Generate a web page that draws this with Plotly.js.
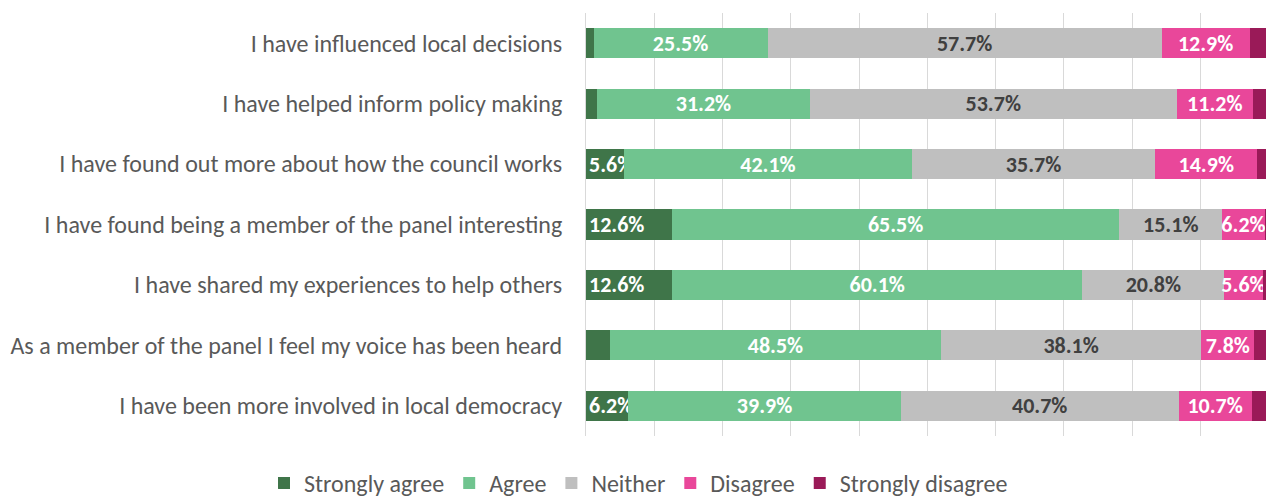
<!DOCTYPE html>
<html>
<head>
<meta charset="utf-8">
<script src="https://cdn.plot.ly/plotly-3.0.1.min.js"></script>
<style>
html, body { margin: 0; padding: 0; background: #ffffff; }
#chart { width: 1266px; height: 500px; }
</style>
</head>
<body>
<div id="chart"></div>
<script>
const categories = [
  "I have influenced local decisions",
  "I have helped inform policy making",
  "I have found out more about how the council works",
  "I have found being a member of the panel interesting",
  "I have shared my experiences to help others",
  "As a member of the panel I feel my voice has been heard",
  "I have been more involved in local democracy"
];
const stronglyAgree    = [1.1, 1.6, 5.6, 12.6, 12.6, 3.5, 6.2];
const agree            = [25.5, 31.2, 42.1, 65.5, 60.1, 48.5, 39.9];
const neither          = [57.7, 53.7, 35.7, 15.1, 20.8, 38.1, 40.7];
const disagree         = [12.9, 11.2, 14.9, 6.2, 5.6, 7.8, 10.7];
const stronglyDisagree = [2.8, 2.3, 1.7, 0.6, 0.9, 2.1, 2.5];

const seriesNames  = ["Strongly agree", "Agree", "Neither", "Disagree", "Strongly disagree"];
const seriesValues = [stronglyAgree, agree, neither, disagree, stronglyDisagree];
const seriesColors = ["#3f7549", "#70c48f", "#bfbfbf", "#e9479a", "#9a1a58"];
const labelColors  = ["#ffffff", "#ffffff", "#404040", "#ffffff", "#ffffff"];
const showLabels   = [true, true, true, true, false];
const labelAnchor  = ["start", "middle", "middle", "middle", "middle"];

const FONT = "Calibri, Carlito, Lato, 'Open Sans', sans-serif";

const traces = seriesNames.map((name, i) => ({
  type: "bar",
  orientation: "h",
  name: name,
  y: categories,
  x: seriesValues[i],
  marker: { color: seriesColors[i], line: { width: 0 } },
  text: seriesValues[i].map(v => (showLabels[i] && v >= 5) ? v.toFixed(1) + "%" : ""),
  textposition: "inside",
  insidetextanchor: labelAnchor[i],
  constraintext: "none",
  textfont: { family: FONT, size: 22, color: labelColors[i], weight: 700 },
  hoverinfo: "x+y+name",
  cliponaxis: false
}));

const layout = {
  width: 1266,
  height: 500,
  barmode: "stack",
  bargap: 0.5,
  paper_bgcolor: "#ffffff",
  plot_bgcolor: "#ffffff",
  margin: { l: 586, r: 0, t: 13, b: 64, autoexpand: false },
  font: { family: FONT, color: "#595959", size: 24 },
  uniformtext: { mode: "show", minsize: 22 },
  xaxis: {
    range: [0, 99.6],
    dtick: 10,
    showgrid: true,
    gridcolor: "#d9d9d9",
    gridwidth: 1,
    zeroline: false,
    showticklabels: false,
    showline: false,
    fixedrange: true
  },
  yaxis: {
    categoryorder: "array",
    categoryarray: categories.slice().reverse(),
    showline: true,
    linecolor: "#d9d9d9",
    linewidth: 1,
    ticks: "",
    ticklabelstandoff: 18,
    tickfont: { family: FONT, size: 24, color: "#595959" },
    fixedrange: true
  },
  legend: {
    orientation: "h",
    xref: "paper",
    yref: "paper",
    x: -0.4735,
    xanchor: "left",
    y: -0.112,
    yanchor: "middle",
    font: { family: FONT, size: 24, color: "#595959" },
    traceorder: "normal",
    itemwidth: 30,
    itemclick: false,
    itemdoubleclick: false
  },
  showlegend: true
};

Plotly.newPlot("chart", traces, layout, { displayModeBar: false, staticPlot: true });
</script>
</body>
</html>
